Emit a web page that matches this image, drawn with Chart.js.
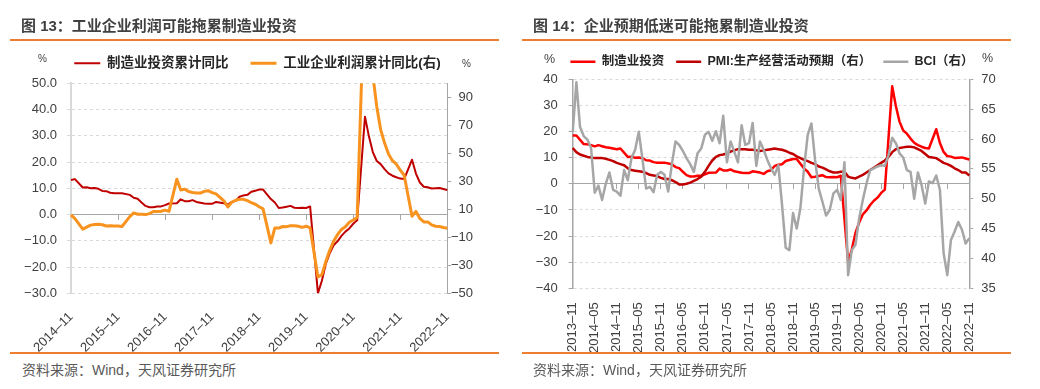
<!DOCTYPE html>
<html>
<head>
<meta charset="utf-8">
<script src="https://cdn.jsdelivr.net/npm/chart.js@4.4.1/dist/chart.umd.min.js"></script>
<style>
  body { margin: 0; width: 1040px; height: 389px; background: #fff; position: relative; overflow: hidden;
         font-family: 'Liberation Sans', 'Noto Sans CJK SC', sans-serif; }
  .title { position: absolute; top: 18px; font-size: 15px; line-height: 15px; font-weight: bold; color: #404040; white-space: nowrap; }
  .rule { position: absolute; height: 1.5px; background: #ED7D31; }
  .src { position: absolute; top: 363px; font-size: 14px; line-height: 14px; color: #595959; white-space: nowrap; }
  .pct { position: absolute; color: #404040; }
  canvas { position: absolute; top: 0; }
</style>
</head>
<body>
<canvas id="c13" width="515" height="352" style="left:0"></canvas>
<canvas id="c14" width="536" height="352" style="left:504px"></canvas>

<div class="title" style="left:21px">图 13：工业企业利润可能拖累制造业投资</div>
<div class="title" style="left:533px">图 14：企业预期低迷可能拖累制造业投资</div>
<div class="rule" style="left:10px; width:489px; top:39.3px"></div>
<div class="rule" style="left:522px; width:489px; top:39.3px"></div>
<div class="rule" style="left:10px; width:489px; top:352px"></div>
<div class="rule" style="left:522px; width:489px; top:352px"></div>
<div class="src" style="left:22px">资料来源：Wind，天风证券研究所</div>
<div class="src" style="left:533px">资料来源：Wind，天风证券研究所</div>
<div class="pct" style="left:38px; top:53.7px; font-size:10px; line-height:10px">%</div>
<div class="pct" style="left:462px; top:58.7px; font-size:10px; line-height:10px">%</div>
<div class="pct" style="left:544px; top:53.4px; font-size:12.5px; line-height:12.5px">%</div>
<div class="pct" style="left:982px; top:51.7px; font-size:12.5px; line-height:12.5px">%</div>

<script>
// monthly categories, 2013-11 .. 2022-11 (January has no cumulative value)
function monthLabels(year, month, count) {
  const out = [];
  for (let i = 0; i < count; i++) {
    const m = (month - 1 + i) % 12 + 1;
    const y = year + Math.floor((month - 1 + i) / 12);
    out.push(y + '–' + String(m).padStart(2, '0'));
  }
  return out;
}
const months = monthLabels(2013, 11, 109);

// 制造业投资累计同比 (%), from 2013-11
const mfgInvest = [
  18.5, 18.5, null, 15.2, 15.1, 14.8, 14.3, 14.8, 14.4, 14.0, 13.8, 13.5,
  13.2, 13.5, null, 10.3, 10.4, 10.0, 10.1, 9.8, 9.0, 8.9, 8.3, 8.1,
  8.1, 8.1, null, 7.5, 6.4, 6.0, 4.6, 3.3, 2.8, 2.8, 3.1, 3.1,
  3.6, 4.2, null, 4.3, 5.8, 5.1, 5.1, 5.5, 4.8, 4.5, 4.2, 4.1,
  4.1, 4.8, null, 4.3, 3.8, 4.8, 5.2, 6.8, 7.3, 7.5, 8.7, 9.1,
  9.5, 9.5, null, 5.9, 4.6, 2.5, 2.7, 3.0, 3.3, 2.6, 2.5, 2.6,
  2.5, 3.1, null, -30.0, -25.2, -18.8, -14.8, -11.7, -10.2, -8.1, -6.5, -5.3,
  -3.5, -2.2, null, 37.3, 29.8, 23.8, 20.4, 19.2, 17.3, 15.7, 14.8, 14.2,
  13.7, 13.5, null, 20.9, 15.6, 12.2, 10.6, 10.4, 9.9, 10.0, 10.1, 9.7,
  9.3
];

// 工业企业利润累计同比 (%), from 2014-11
const profitYoY = [
  6.0, 3.3, null, -4.2, -2.7, -1.3, -0.8, -0.7, -1.0, -1.9, -1.7, -2.0,
  -1.9, -2.3, null, 4.8, 7.4, 6.5, 6.4, 6.2, 6.9, 8.4, 8.4, 8.6,
  9.4, 8.5, null, 31.5, 23.8, 24.4, 22.7, 22.0, 21.6, 21.6, 22.8, 23.3,
  21.9, 21.0, null, 16.1, 11.6, 15.0, 16.5, 17.2, 17.1, 16.2, 14.7, 13.6,
  11.8, 10.3, null, -14.0, -3.3, -3.4, -2.3, -2.4, -1.7, -1.7, -2.1, -2.9,
  -2.1, -3.3, null, -38.3, -36.7, -27.4, -19.3, -12.8, -8.1, -4.4, -2.4, 0.7,
  2.4, 4.1, null, 178.9, 137.3, 106.0, 83.4, 66.9, 57.3, 49.5, 44.7, 42.2,
  38.0, 34.3, null, 5.0, 8.5, 3.5, 1.0, 1.0, -1.1, -2.1, -2.3, -3.0,
  -3.6
];

// PMI:生产经营活动预期, from 2013-11
const pmiExpect = [
  58.5, 57.8, 57.4, 57.2, 57.0, 56.9, 56.8, 56.8, 56.8, 56.7,
  56.5, 56.3, 56.0, 55.8, 55.6, 55.1, 54.8, 54.7, 54.6, 54.5,
  54.3, 54.0, 53.9, 53.8, 53.5, 53.3, 53.3, 53.1, 52.8, 52.4,
  52.4, 52.5, 52.7, 53.0, 53.3, 53.7, 54.5, 55.5, 56.4, 57.0,
  57.3, 57.4, 57.6, 57.9, 58.1, 58.3, 58.3, 58.3, 58.2, 58.2,
  58.1, 58.0, 58.1, 58.2, 58.3, 58.4, 58.3, 58.2, 58.0, 57.7,
  57.5, 57.1, 56.8, 56.5, 56.3, 56.0, 55.8, 55.4, 55.2, 54.9,
  54.6, 54.4, 54.4, 54.5, 54.5, 53.7, 53.5, 53.4, 53.7, 54.0,
  54.4, 54.8, 55.2, 55.6, 56.0, 56.4, 57.0, 57.8, 58.3, 58.5,
  58.6, 58.7, 58.7, 58.6, 58.3, 58.0, 57.5, 57.0, 56.9, 56.8,
  56.4, 56.0, 55.8, 55.5, 55.1, 54.8, 54.4, 54.4, 53.9
];

// BCI, from 2013-11
const bci = [
  61.2, 69.5, 62.0, 60.5, 59.9, 58.5, 51.0, 52.2, 49.8, 52.5,
  54.4, 51.5, 51.2, 50.5, 54.8, 53.1, 56.8, 58.2, 61.2, 56.6,
  51.7, 52.0, 51.1, 54.0, 54.5, 54.0, 51.2, 55.8, 59.6, 59.0,
  58.0, 56.8, 55.8, 54.5, 57.6, 58.4, 60.7, 61.2, 59.7, 61.3,
  59.3, 63.9, 56.1, 59.6, 57.9, 56.1, 62.3, 59.0, 59.3, 62.7,
  55.5, 59.6, 58.2, 56.5, 55.1, 54.0, 55.6, 49.0, 41.8, 41.4,
  47.6, 45.0, 48.4, 55.1, 60.7, 62.6, 56.5, 51.7, 49.5, 47.2,
  48.1, 50.9, 51.5, 49.8, 56.1, 37.2, 41.4, 42.3, 46.7, 49.8,
  52.5, 54.8, 55.1, 55.4, 55.6, 55.5, 57.3, 60.2, 59.3, 57.6,
  56.9, 54.8, 54.5, 50.0, 54.4, 52.3, 49.2, 52.9, 52.6, 53.9,
  51.5, 40.9, 37.2, 43.1, 44.5, 46.1, 44.8, 42.5, 43.4
];

const profitTicks = [-50, -30, -10, 10, 30, 50, 70, 90];

const labels13 = months.slice(12);
const invest13 = mfgInvest.slice(12);

Chart.defaults.font.family = "'Liberation Sans', 'Noto Sans CJK SC', sans-serif";
Chart.defaults.font.size = 13;
Chart.defaults.color = '#404040';
Chart.defaults.animation = false;

const minus = s => String(s).replace('-', '−');
const everyN = n => scale => { scale.ticks = scale.ticks.filter(t => t.value % n === 0); };
const byIndex = (a, b) => a.datasetIndex - b.datasetIndex;

const zeroAxis = n => ({
  type: 'category',
  axis: 'x',
  position: { y: 0 },
  grid: { drawOnChartArea: false, tickLength: 5, tickColor: '#a6a6a6', color: '#a6a6a6' },
  border: { color: '#a6a6a6', width: 1 },
  ticks: { display: false },
  afterBuildTicks: everyN(n)
});

// 图13
new Chart(document.getElementById('c13'), {
  type: 'line',
  data: {
    labels: labels13,
    datasets: [
      { label: '制造业投资累计同比', data: invest13, borderColor: '#C00000', backgroundColor: '#C00000',
        borderWidth: 2, yAxisID: 'y', order: 1 },
      { label: '工业企业利润累计同比(右)', data: profitYoY, borderColor: '#F7931E', backgroundColor: '#F7931E',
        borderWidth: 3, yAxisID: 'y1', order: 0 }
    ]
  },
  options: {
    responsive: false,
    spanGaps: true,
    elements: { point: { radius: 0 }, line: { tension: 0, borderJoinStyle: 'round' } },
    layout: { padding: { top: 34.5, left: 0, right: 0, bottom: 0 } },
    plugins: {
      legend: {
        weight: 3000,
        labels: { usePointStyle: true, pointStyle: 'line', pointStyleWidth: 26, padding: 22,
                  color: '#262626', font: { size: 13.5, weight: 'bold' }, sort: byIndex }
      },
      title: { display: true, text: '', padding: { top: 0, bottom: 2.3 }, font: { size: 1, lineHeight: 1 } },
      tooltip: { enabled: false }
    },
    scales: {
      x: {
        grid: { display: false },
        border: { display: false },
        ticks: { autoSkip: false, minRotation: 45, maxRotation: 45, padding: 8 },
        afterBuildTicks: everyN(12),
        afterFit: s => { s.height = 58.7; s.paddingLeft = 0; s.paddingRight = 0; }
      },
      x0: zeroAxis(12),
      y: {
        position: 'left', min: -30, max: 50,
        ticks: { stepSize: 10, padding: 10, callback: v => minus(v.toFixed(1)) },
        grid: { color: '#d9d9d9', tickColor: '#d9d9d9', tickLength: 4 },
        border: { color: '#d9d9d9', width: 2, dash: [3, 3] },
        afterFit: s => { s.width = 71; }
      },
      y1: {
        position: 'right', weight: 0, min: -50, max: 100,
        afterBuildTicks: s => { s.ticks = profitTicks.map(v => ({ value: v })); },
        ticks: { padding: 0, crossAlign: 'far', callback: v => minus(v) },
        grid: { drawOnChartArea: false, tickLength: 4, tickColor: '#a6a6a6' },
        border: { color: '#a6a6a6', width: 1 },
        afterFit: s => { s.width = 473 - 447.3; }
      },
      // empty spacer outside the right axis, so its labels can be right-aligned
      gap: {
        type: 'linear', position: 'right', weight: 1,
        grid: { display: false }, border: { display: false }, ticks: { display: false },
        afterFit: s => { s.width = 515 - 473; }
      }
    }
  }
});

// 图14
new Chart(document.getElementById('c14'), {
  type: 'line',
  data: {
    labels: months,
    datasets: [
      { label: '制造业投资', data: mfgInvest, borderColor: '#FF0000', backgroundColor: '#FF0000',
        borderWidth: 2.5, yAxisID: 'y', order: 2 },
      { label: 'PMI:生产经营活动预期（右）', data: pmiExpect, borderColor: '#C00000', backgroundColor: '#C00000',
        borderWidth: 2.5, yAxisID: 'y2', order: 1 },
      { label: 'BCI（右）', data: bci, borderColor: '#A6A6A6', backgroundColor: '#A6A6A6',
        borderWidth: 2.5, yAxisID: 'y2', order: 0 }
    ]
  },
  options: {
    responsive: false,
    spanGaps: true,
    elements: { point: { radius: 0 }, line: { tension: 0, borderJoinStyle: 'round' } },
    layout: { padding: { top: 43.4, left: 0, right: 0, bottom: 0 } },
    plugins: {
      legend: {
        weight: 3000,
        labels: { usePointStyle: true, pointStyle: 'line', pointStyleWidth: 25, padding: 12,
                  color: '#262626', font: { size: 12.5, weight: 'bold' }, sort: byIndex }
      },
      title: { display: true, text: '', padding: { top: 0, bottom: 0.4 }, font: { size: 1, lineHeight: 1 } },
      tooltip: { enabled: false }
    },
    scales: {
      x: {
        grid: { display: false },
        border: { display: false },
        ticks: { autoSkip: false, minRotation: 90, maxRotation: 90, padding: 6 },
        afterBuildTicks: everyN(6),
        afterFit: s => { s.height = 63.7; s.paddingLeft = 0; s.paddingRight = 0; }
      },
      x0: zeroAxis(6),
      y: {
        position: 'left', min: -40, max: 40,
        ticks: { stepSize: 10, padding: 11, callback: v => minus(v) },
        grid: { color: '#d9d9d9', tickColor: '#a6a6a6', tickLength: 4 },
        border: { color: '#a6a6a6', width: 1.5, dash: [3, 3] },
        afterFit: s => { s.width = 572.7 - 504; }
      },
      y2: {
        position: 'right', min: 35, max: 70,
        ticks: { stepSize: 5, padding: 8 },
        grid: { drawOnChartArea: false, tickLength: 4, tickColor: '#a6a6a6' },
        border: { color: '#a6a6a6', width: 1.5 },
        afterFit: s => { s.width = 1040 - 969.3; }
      }
    }
  }
});
</script>
</body>
</html>
